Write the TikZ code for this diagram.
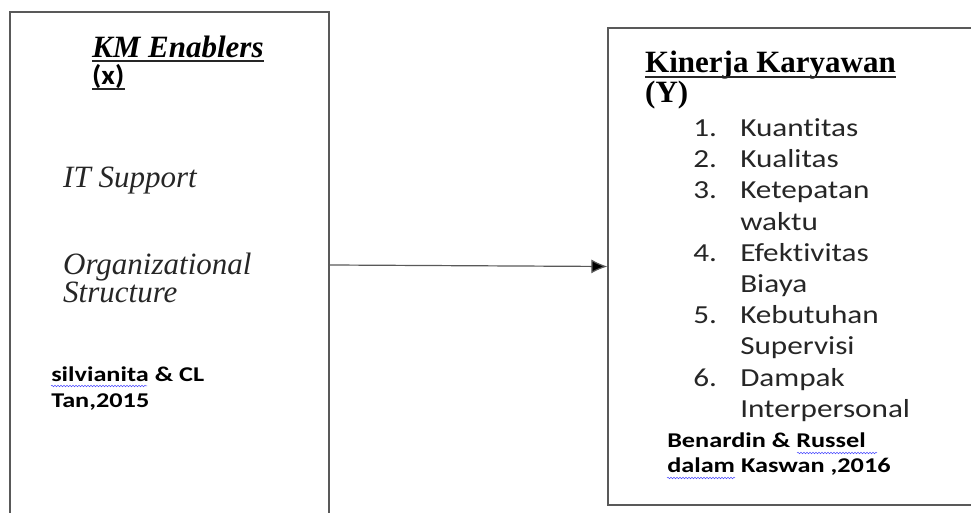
\documentclass[tikz,border=0pt]{standalone}
\usepackage{fontspec}
\setmainfont{Liberation Serif}
\newfontfamily\calibri[Ligatures=NoCommon]{Carlito}
\usetikzlibrary{arrows.meta,positioning,decorations.pathmorphing}

\tikzset{
    box/.style={draw=black!65, line width=1.3pt, inner sep=0pt},
    head/.style={anchor=base west, inner sep=0pt, font=\fontsize{31}{34}\selectfont\bfseries},
    var/.style={anchor=base west, inner sep=0pt, font=\fontsize{31}{34}\selectfont\itshape, text=black!85},
    item/.style={anchor=base west, inner sep=0pt, xscale=1.2, font=\fontsize{26}{30}\calibri, text=black!85},
    cite/.style={anchor=base west, inner sep=0pt, xscale=1.25, font=\fontsize{21}{25}\calibri\bfseries},
    uline/.style={draw=black!85, line width=1.6pt},
    spell/.style={draw=blue!70, line width=0.5pt, decorate, decoration={snake, amplitude=0.8pt, segment length=3pt}},
    link/.style={draw=black!65, line width=1.2pt, -{Latex[length=16pt,width=14pt,fill=black]}}
}

\begin{document}
\begin{tikzpicture}[x=1pt, y=1pt]
    \useasboundingbox (0,0) rectangle (971,513);
    \clip (0,0) rectangle (971,513);

    % Boxes
    \node[box, minimum width=319pt, minimum height=506pt] (kmbox) at (169.5,248) {};
    \node[box, minimum width=380pt, minimum height=477pt] (kinerjabox) at (798,246.5) {};

    % KM Enablers (x)
    \node[head, font=\fontsize{31}{34}\selectfont\bfseries\itshape] (kmtitle) at (92,455) {KM Enablers};
    \node[anchor=base west, inner sep=0pt, xscale=1.1, font=\fontsize{27}{30}\calibri\bfseries] (kmx) at (92,428) {(x)};
    \node[var] (itsupport) at (63,325) {IT Support};
    \node[var] (orgstruct) at (63,238) {Organizational};
    \node[var] (orgstruct2) at (63,210) {Structure};
    \node[cite] (kmcite) at (51,131) {silvianita \& CL};
    \node[cite] (kmcite2) at (51,105) {Tan,2015};

    % Kinerja Karyawan (Y)
    \node[head] (kintitle) at (645,440) {Kinerja Karyawan};
    \node[head] (kiny) at (645,410) {(Y)};
    \node[item] (n1) at (693,376) {1.};
    \node[item] (i1) at (740,376) {Kuantitas};
    \node[item] (n2) at (693,345) {2.};
    \node[item] (i2) at (740,345) {Kualitas};
    \node[item] (n3) at (693,314) {3.};
    \node[item] (i3) at (740,314) {Ketepatan};
    \node[item] (i3b) at (740,282) {waktu};
    \node[item] (n4) at (693,251) {4.};
    \node[item] (i4) at (740,251) {Efektivitas};
    \node[item] (i4b) at (740,220) {Biaya};
    \node[item] (n5) at (693,189) {5.};
    \node[item] (i5) at (740,189) {Kebutuhan};
    \node[item] (i5b) at (740,158) {Supervisi};
    \node[item] (n6) at (693,126) {6.};
    \node[item] (i6) at (740,126) {Dampak};
    \node[item] (i6b) at (740,95) {Interpersonal};
    \node[cite] (kincite) at (667,65) {Benardin \& Russel};
    \node[cite] (kincite2) at (667,40) {dalam Kaswan ,2016};

    % Underlines
    \draw[uline] ([yshift=-3pt]kmtitle.base west) -- ([yshift=-3pt]kmtitle.base east);
    \draw[uline, line width=1.2pt] ([yshift=-4pt]kmx.base west) -- ([yshift=-4pt]kmx.base east);
    \draw[uline] ([yshift=-4pt]kintitle.base west) -- ([yshift=-4pt]kintitle.base east);

    % Spelling marks
    \draw[spell] ([yshift=-4pt]kmcite.base west) -- ++(96,0);
    \draw[spell] ([xshift=130pt,yshift=-5pt]kincite.base west) -- ++(80,0);
    \draw[spell] ([yshift=-5pt]kincite2.base west) -- ++(68,0);

    % Link
    \path[link] (kmbox.east) -- (kinerjabox.west);
\end{tikzpicture}
\end{document}
